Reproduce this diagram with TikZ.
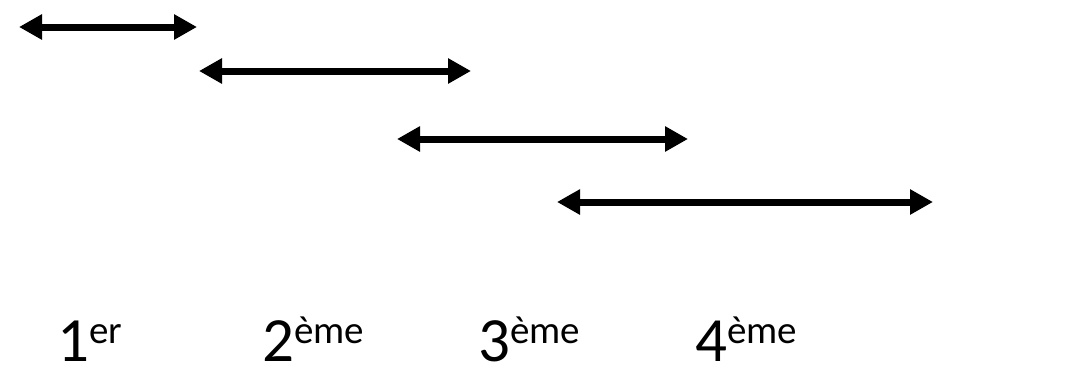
\documentclass[tikz,border=0pt]{standalone}
\usepackage{fontspec}
\setmainfont{Carlito}
\usetikzlibrary{arrows.meta}

\tikzset{
  duree/.style={line width=7pt,{Triangle[length=23pt,width=24pt]}-{Triangle[length=23pt,width=24pt]}},
  rang/.style={anchor=base west,inner sep=0pt,text depth=0pt,font=\fontsize{63}{63}\selectfont}
}
\newcommand{\expo}[1]{\raisebox{18pt}{\fontsize{39}{39}\selectfont #1}}

\begin{document}
\begin{tikzpicture}[x=1pt,y=1pt]
    \useasboundingbox (0,0) rectangle (1077,-375);

    \coordinate (d1) at (19,-27);
    \coordinate (f1) at (197,-27);
    \coordinate (d2) at (199,-71);
    \coordinate (f2) at (471,-71);
    \coordinate (d3) at (397,-139);
    \coordinate (f3) at (688,-139);
    \coordinate (d4) at (557,-202);
    \coordinate (f4) at (933,-202);

    \draw[duree] (d1) -- (f1);
    \draw[duree] (d2) -- (f2);
    \draw[duree] (d3) -- (f3);
    \draw[duree] (d4) -- (f4);

    \node (premier) [rang] at (57,-361) {1\expo{er}};
    \node (deuxieme) [rang] at (262,-361) {2\expo{ème}};
    \node (troisieme) [rang] at (478,-361) {3\expo{ème}};
    \node (quatrieme) [rang] at (695,-361) {4\expo{ème}};

\end{tikzpicture}
\end{document}
